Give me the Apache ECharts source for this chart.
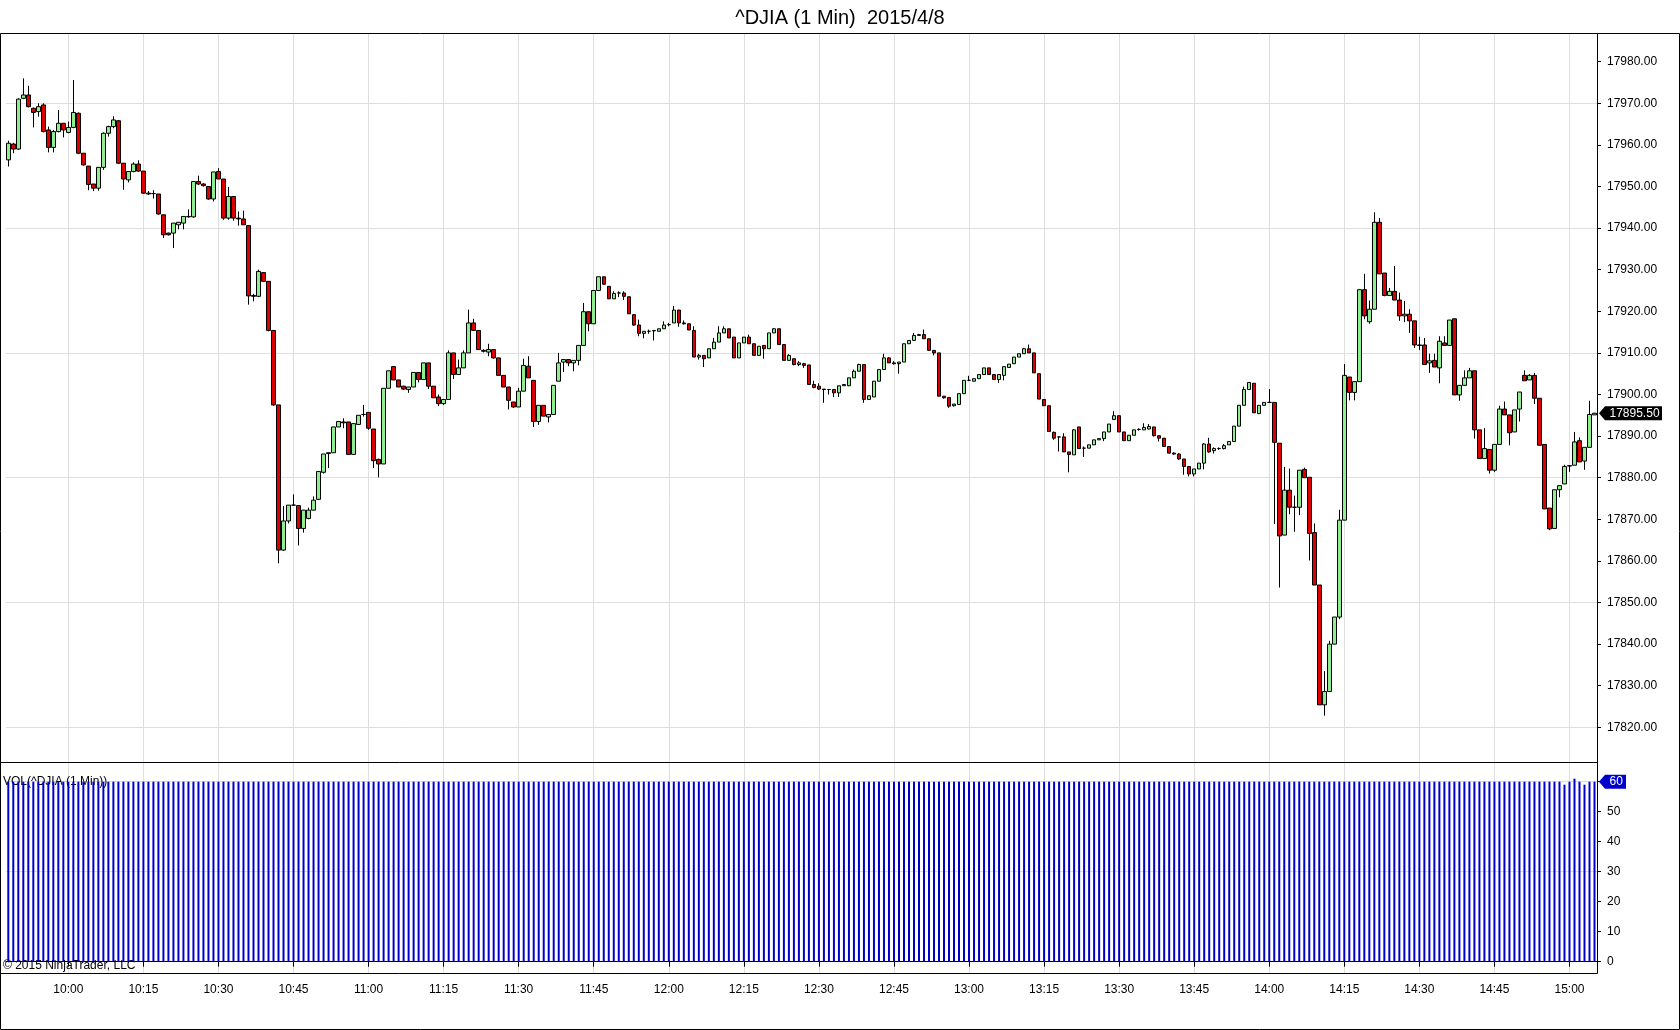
<!DOCTYPE html>
<html><head><meta charset="utf-8">
<script src="https://cdn.jsdelivr.net/npm/echarts@6/dist/echarts.min.js"></script>
<style>html,body{margin:0;padding:0;background:#fff}#c{width:1680px;height:1030px}</style>
</head><body><div id="c"></div>
<script>
// ---- data (1-minute bars from 09:48) ----
const startMinute = 9 * 60 + 48;
const opens = [
17956.4,17960.2,17959.0,17971.2,17972.0,17968.8,17968.0,17969.6,17963.6,17959.4,
17963.2,17965.2,17963.0,17964.2,17967.6,17958.0,17954.9,17950.6,17949.6,17954.6,
17962.8,17964.4,17965.8,17955.6,17951.6,17953.6,17955.4,17953.7,17948.4,17948.3,
17948.2,17943.2,17938.8,17938.8,17940.8,17941.2,17942.7,17942.7,17951.2,17950.6,
17950.0,17947.0,17953.6,17951.8,17942.4,17947.6,17942.4,17942.2,17940.6,17923.8,
17923.6,17929.3,17927.2,17915.4,17897.5,17862.6,17869.6,17873.4,17873.3,17867.8,
17870.2,17872.2,17874.8,17881.3,17885.8,17886.0,17892.2,17893.4,17893.4,17885.6,
17892.8,17895.2,17895.7,17891.7,17884.4,17883.3,17901.5,17906.7,17903.5,17902.0,
17901.2,17901.8,17905.3,17903.6,17907.6,17902.0,17899.4,17897.8,17898.8,17910.0,
17904.8,17906.4,17910.0,17917.2,17915.4,17910.6,17910.2,17910.8,17908.8,17904.6,
17901.8,17898.2,17897.0,17900.8,17906.8,17903.4,17893.5,17897.4,17894.6,17895.2,
17903.2,17907.8,17908.4,17907.6,17908.2,17911.8,17919.9,17917.0,17925.0,17928.3,
17926.0,17923.0,17924.4,17924.4,17923.5,17919.2,17916.7,17914.7,17915.2,17915.3,
17915.2,17915.8,17916.8,17917.2,17920.3,17917.2,17917.0,17915.4,17909.0,17909.4,
17908.8,17911.0,17912.6,17914.8,17915.8,17913.8,17908.8,17912.4,17913.8,17912.2,
17909.4,17911.8,17911.0,17914.8,17915.8,17912.0,17908.2,17908.6,17907.2,17907.4,
17907.1,17902.4,17902.0,17901.3,17901.2,17901.2,17900.4,17902.1,17902.1,17904.0,
17905.6,17907.2,17898.8,17899.4,17903.2,17906.0,17908.8,17907.6,17907.4,17907.8,
17912.2,17913.0,17914.2,17914.4,17913.4,17910.6,17910.0,17899.6,17899.3,17897.3,
17897.6,17900.2,17903.4,17903.2,17903.8,17904.8,17906.4,17904.8,17903.6,17904.6,
17906.5,17907.4,17909.0,17909.8,17911.0,17910.0,17905.0,17898.8,17897.3,17890.9,
17889.8,17889.8,17886.2,17885.5,17892.2,17887.1,17887.1,17887.9,17889.1,17889.4,
17891.0,17894.0,17894.9,17891.0,17888.9,17890.2,17891.6,17891.5,17891.7,17892.2,
17890.1,17889.5,17887.5,17885.9,17885.7,17884.5,17882.7,17880.9,17882.1,17883.5,
17888.1,17886.5,17887.0,17887.0,17887.9,17888.7,17892.4,17897.4,17901.2,17902.7,
17895.4,17897.4,17898.1,17898.1,17888.3,17866.2,17877.0,17872.9,17872.9,17882.0,
17880.1,17866.8,17854.2,17825.4,17828.6,17840.0,17846.5,17869.8,17904.2,17900.5,
17903.1,17925.2,17917.5,17920.5,17941.4,17929.2,17923.8,17924.8,17922.7,17918.9,
17919.3,17917.7,17911.9,17911.9,17907.6,17908.2,17906.4,17912.4,17911.8,17918.2,
17899.9,17902.2,17904.0,17905.7,17891.5,17884.6,17886.8,17881.8,17888.0,17896.5,
17895.1,17891.0,17896.5,17904.6,17903.5,17904.6,17899.1,17888.0,17872.7,17867.8,
17877.1,17878.5,17882.8,17883.0,17888.9,17884.0,17887.3,17895.1];
const closes = [
17960.4,17959.0,17971.0,17972.0,17969.2,17967.8,17969.2,17963.2,17959.4,17963.2,
17965.2,17963.6,17964.2,17967.8,17958.0,17955.2,17950.5,17949.6,17954.6,17962.8,
17964.4,17966.0,17955.6,17951.8,17953.6,17955.4,17953.7,17948.4,17948.2,17948.3,
17943.4,17938.4,17938.4,17941.2,17941.4,17942.8,17942.8,17951.2,17950.6,17950.2,
17947.0,17953.5,17951.8,17942.4,17947.6,17942.4,17942.2,17940.8,17923.7,17923.6,
17929.6,17927.2,17915.4,17897.5,17862.6,17869.6,17873.4,17873.4,17867.8,17872.2,
17872.2,17874.6,17881.5,17885.7,17886.0,17892.2,17893.5,17893.2,17885.6,17893.0,
17895.0,17895.2,17891.9,17884.1,17883.3,17901.5,17905.7,17903.5,17901.8,17901.3,
17901.8,17905.3,17903.6,17907.6,17902.0,17899.2,17897.8,17898.8,17910.0,17904.8,
17906.4,17910.0,17917.2,17915.4,17910.8,17910.4,17910.8,17908.8,17904.6,17901.8,
17898.6,17897.0,17900.8,17907.0,17904.0,17893.5,17897.4,17894.8,17895.2,17902.2,
17907.6,17908.4,17907.6,17908.2,17911.8,17919.9,17917.0,17925.0,17928.3,17926.5,
17923.0,17924.3,17924.4,17923.6,17919.4,17916.7,17914.7,17915.2,17915.2,17915.4,
17915.8,17916.7,17916.8,17920.3,17917.2,17917.0,17915.5,17909.0,17909.4,17908.6,
17911.0,17912.6,17914.8,17915.8,17913.6,17908.8,17912.4,17913.8,17912.2,17909.4,
17911.6,17911.0,17914.8,17915.8,17912.0,17908.2,17909.4,17907.2,17907.6,17907.0,
17902.4,17901.7,17901.3,17901.2,17901.2,17900.4,17902.1,17902.4,17904.0,17905.6,
17907.2,17898.8,17899.7,17903.2,17906.0,17908.8,17907.6,17907.4,17907.8,17912.2,
17913.0,17914.2,17914.4,17913.4,17910.6,17910.0,17899.6,17899.2,17897.2,17897.7,
17900.2,17903.4,17903.4,17903.8,17904.8,17906.4,17904.8,17903.6,17904.8,17906.7,
17907.3,17909.0,17909.8,17911.0,17910.0,17905.2,17898.9,17897.3,17891.1,17889.5,
17889.8,17886.2,17885.6,17891.5,17887.0,17887.1,17887.9,17889.1,17889.4,17891.0,
17892.9,17894.9,17891.0,17888.9,17890.2,17891.5,17891.6,17892.1,17892.3,17890.1,
17889.5,17887.5,17885.9,17885.7,17884.5,17882.7,17880.9,17882.1,17883.5,17888.1,
17886.2,17887.0,17887.0,17887.7,17888.7,17892.4,17897.4,17901.2,17902.9,17895.6,
17897.4,17898.1,17898.1,17888.5,17866.0,17877.0,17872.9,17872.9,17881.8,17880.0,
17866.6,17854.2,17825.4,17828.6,17840.0,17846.5,17869.8,17904.6,17900.5,17903.1,
17925.2,17918.9,17920.5,17941.4,17929.0,17923.8,17924.8,17922.7,17918.9,17919.3,
17917.7,17911.9,17911.8,17907.2,17908.1,17906.6,17912.8,17911.8,17917.9,17899.9,
17902.2,17904.0,17905.7,17891.5,17884.6,17887.0,17881.8,17888.0,17896.5,17895.1,
17890.8,17896.3,17900.6,17903.3,17904.6,17899.1,17887.8,17872.5,17867.7,17877.1,
17878.1,17882.7,17882.9,17888.6,17883.8,17887.3,17895.2,17895.5];
const lows = [
17954.8,17958.0,17958.8,17971.0,17969.0,17964.2,17966.8,17963.0,17958.2,17958.2,
17963.0,17961.8,17962.8,17964.0,17957.8,17955.0,17949.1,17948.9,17949.0,17954.0,
17962.0,17964.0,17955.4,17949.2,17951.0,17953.4,17953.5,17948.2,17948.0,17947.1,
17943.2,17937.6,17938.2,17935.2,17939.7,17939.7,17942.5,17942.5,17950.4,17950.0,
17946.8,17946.4,17951.8,17942.0,17942.0,17941.8,17940.6,17940.8,17921.6,17922.4,
17923.4,17927.0,17915.2,17897.3,17859.4,17862.4,17869.0,17873.2,17863.7,17866.8,
17870.0,17872.2,17874.6,17881.0,17882.3,17886.0,17892.2,17891.9,17885.6,17885.6,
17892.8,17894.7,17891.5,17882.3,17880.1,17883.3,17901.5,17903.5,17901.8,17901.1,
17900.4,17901.8,17902.9,17903.6,17901.3,17899.2,17897.2,17897.5,17898.8,17903.7,
17904.8,17906.4,17910.0,17915.4,17910.8,17910.1,17909.2,17908.6,17904.6,17901.8,
17896.4,17896.8,17897.0,17900.8,17904.0,17892.2,17892.7,17894.8,17893.3,17895.2,
17903.2,17905.4,17906.8,17905.6,17907.0,17911.8,17915.2,17917.0,17925.0,17926.5,
17923.0,17923.0,17923.4,17922.7,17919.4,17916.5,17914.0,17913.5,17914.6,17913.0,
17915.2,17915.8,17916.4,17917.2,17916.3,17916.8,17915.5,17909.0,17908.4,17906.6,
17908.8,17911.0,17912.6,17914.8,17913.6,17908.8,17908.8,17912.4,17912.2,17909.4,
17909.4,17908.6,17911.0,17914.8,17912.0,17908.2,17908.2,17907.0,17906.8,17906.4,
17902.4,17901.5,17901.1,17898.0,17900.0,17899.4,17899.4,17902.1,17902.0,17904.0,
17905.6,17898.0,17898.8,17899.4,17903.2,17906.0,17907.6,17907.2,17905.0,17907.8,
17912.2,17913.0,17914.2,17913.4,17910.6,17909.4,17899.6,17899.0,17896.8,17897.1,
17897.6,17900.2,17903.2,17903.2,17903.8,17904.8,17904.8,17903.6,17902.8,17903.4,
17906.5,17907.4,17909.0,17909.8,17910.0,17905.2,17898.9,17897.3,17891.1,17889.1,
17886.3,17886.2,17881.3,17885.5,17887.0,17885.0,17887.1,17887.9,17889.1,17888.8,
17891.0,17894.0,17891.0,17888.9,17888.9,17890.2,17891.3,17891.5,17891.6,17889.9,
17888.7,17887.5,17885.9,17885.5,17884.3,17880.7,17880.3,17880.3,17882.1,17882.0,
17886.0,17885.8,17886.7,17886.8,17887.9,17888.7,17892.4,17897.4,17901.2,17895.6,
17895.4,17897.4,17898.0,17868.9,17853.6,17866.2,17871.2,17867.0,17871.0,17880.0,
17860.1,17854.2,17825.4,17822.8,17828.6,17840.0,17846.0,17869.8,17898.6,17898.6,
17903.1,17918.1,17917.0,17920.5,17929.0,17923.6,17923.8,17922.7,17917.7,17917.4,
17914.8,17911.2,17910.7,17907.2,17905.2,17906.6,17902.7,17911.8,17911.8,17899.9,
17898.5,17902.2,17904.0,17889.4,17884.6,17884.6,17881.0,17881.4,17888.0,17895.1,
17887.8,17891.0,17893.5,17903.3,17903.5,17897.7,17887.8,17872.5,17867.4,17867.8,
17875.3,17878.5,17881.4,17883.0,17883.8,17881.9,17887.3,17895.1];
const highs = [
17961.0,17960.5,17971.2,17976.0,17974.2,17969.0,17970.0,17970.0,17964.4,17963.6,
17968.4,17965.2,17965.6,17975.6,17967.8,17958.0,17954.9,17950.6,17954.6,17963.0,
17964.6,17966.9,17966.0,17955.6,17953.6,17955.8,17956.3,17953.7,17948.9,17949.1,
17948.2,17943.2,17938.9,17941.2,17941.4,17942.8,17944.5,17951.2,17952.6,17950.8,
17950.0,17953.5,17954.4,17951.8,17949.9,17947.6,17944.0,17944.2,17940.6,17924.2,
17930.0,17929.3,17927.2,17915.4,17897.5,17873.2,17873.4,17876.0,17873.3,17872.2,
17872.8,17875.5,17881.5,17885.7,17886.0,17892.2,17893.5,17894.3,17893.4,17893.0,
17895.0,17897.5,17895.7,17891.7,17884.6,17901.5,17905.7,17906.7,17903.5,17902.1,
17901.8,17905.3,17905.3,17907.6,17907.6,17902.0,17900.0,17898.8,17910.6,17910.0,
17908.4,17910.6,17920.4,17918.2,17915.4,17910.9,17912.2,17910.8,17908.8,17904.6,
17901.8,17898.2,17901.6,17908.6,17909.2,17903.4,17897.4,17897.4,17895.2,17902.2,
17910.0,17908.4,17908.4,17908.2,17911.8,17922.0,17919.9,17925.0,17928.3,17928.3,
17926.0,17924.8,17924.8,17924.8,17923.5,17919.2,17918.0,17915.2,17915.6,17915.4,
17915.8,17917.6,17917.2,17921.3,17920.3,17917.8,17917.0,17916.4,17909.8,17909.4,
17911.0,17913.6,17916.4,17916.4,17915.8,17913.8,17912.4,17913.8,17914.4,17912.2,
17911.6,17911.8,17914.8,17916.0,17915.8,17912.0,17909.7,17908.6,17908.0,17907.6,
17907.1,17903.3,17902.7,17901.3,17901.3,17901.2,17902.1,17902.4,17904.0,17906.0,
17907.4,17907.2,17899.7,17903.2,17906.0,17909.8,17909.0,17908.0,17907.8,17912.2,
17913.0,17914.8,17914.6,17915.6,17913.4,17910.6,17910.0,17899.6,17899.3,17897.7,
17900.2,17903.4,17904.5,17903.8,17904.8,17906.4,17906.4,17904.8,17904.8,17906.7,
17907.3,17909.0,17909.8,17911.2,17912.0,17910.0,17905.0,17898.8,17897.3,17891.1,
17889.9,17890.7,17886.2,17891.7,17892.2,17887.5,17887.9,17889.1,17889.4,17891.0,
17892.9,17896.0,17894.9,17891.0,17890.2,17891.5,17891.9,17893.1,17892.9,17892.2,
17890.1,17889.5,17887.5,17886.1,17885.9,17884.5,17882.7,17882.1,17883.5,17888.3,
17889.6,17887.3,17887.3,17888.1,17888.7,17892.4,17897.4,17901.9,17902.9,17902.7,
17897.4,17898.1,17901.3,17898.1,17888.3,17882.6,17882.2,17875.7,17881.8,17882.4,
17880.1,17869.0,17854.2,17833.5,17840.8,17846.5,17872.3,17907.3,17904.2,17903.1,
17925.2,17929.0,17922.6,17943.8,17942.4,17929.2,17925.6,17930.9,17924.5,17922.5,
17920.5,17917.7,17913.9,17913.6,17909.8,17909.8,17914.0,17914.0,17917.9,17918.2,
17902.2,17905.8,17906.4,17905.7,17891.5,17891.9,17886.8,17888.0,17897.3,17898.3,
17895.1,17896.3,17900.6,17905.8,17904.9,17905.2,17899.1,17888.0,17872.7,17877.1,
17878.1,17883.1,17883.0,17891.0,17889.7,17887.3,17898.5,17895.6];
const volumes = [
60,60,60,60,60,60,60,60,60,60, 60,60,60,60,60,60,60,60,60,60,
60,60,60,60,60,60,60,60,60,60, 60,60,60,60,60,60,60,60,60,60,
60,60,60,60,60,60,60,60,60,60, 60,60,60,60,60,60,60,60,60,60,
60,60,60,60,60,60,60,60,60,60, 60,60,60,60,60,60,60,60,60,60,
60,60,60,60,60,60,60,60,60,60, 60,60,60,60,60,60,60,60,60,60,
60,60,60,60,60,60,60,60,60,60, 60,60,60,60,60,60,60,60,60,60,
60,60,60,60,60,60,60,60,60,60, 60,60,60,60,60,60,60,60,60,60,
60,60,60,60,60,60,60,60,60,60, 60,60,60,60,60,60,60,60,60,60,
60,60,60,60,60,60,60,60,60,60, 60,60,60,60,60,60,60,60,60,60,
60,60,60,60,60,60,60,60,60,60, 60,60,60,60,60,60,60,60,60,60,
60,60,60,60,60,60,60,60,60,60, 60,60,60,60,60,60,60,60,60,60,
60,60,60,60,60,60,60,60,60,60, 60,60,60,60,60,60,60,60,60,60,
60,60,60,60,60,60,60,60,60,60, 60,60,60,60,60,60,60,60,60,60,
60,60,60,60,60,60,60,60,60,60, 60,60,60,60,60,60,60,60,60,60,
60,60,60,60,60,60,60,60,60,60, 60,60,60,60,60,60,60,60,60,60,
60,60,60,60,60,60,60,60,60,60, 60,59,60,61,60,59,60,60];
const timeLabels = ['10:00','10:15','10:30','10:45','11:00','11:15','11:30','11:45','12:00','12:15','12:30','12:45','13:00','13:15','13:30','13:45','14:00','14:15','14:30','14:45','15:00'];
const titleText = '^DJIA (1 Min)  2015/4/8';
const volTitle = 'VOL(^DJIA (1 Min))';
const copyright = '\u00a9 2015 NinjaTrader, LLC';

// ---- build ----
const categories = opens.map((_, i) => {
  const m = startMinute + i;
  return Math.floor(m / 60) + ':' + String(m % 60).padStart(2, '0');
});
const candleData = opens.map((o, i) => [o, closes[i], lows[i], highs[i]]);
const isTick = (idx, val) => timeLabels.indexOf(categories[idx]) >= 0;

const FONT = '"Liberation Sans", Arial, sans-serif';
const GRID_C = '#dedede';
const GL = 5.8, GR = 83;
const P_TOP = 34, P_BOT = 727.3, PX_PT = 4.16, P_MIN = 17820;
const P_MAX = P_MIN + (P_BOT - P_TOP) / PX_PT;
const V_TOP = 762, V_ZERO = 961.7, V_PX = 3;
const V_MAX = (V_ZERO - V_TOP) / V_PX;
const PANEL_BOT = 973.5, AXIS_X = 1597.5;

const chart = echarts.init(document.getElementById('c'), null, {renderer: 'canvas', width: 1680, height: 1030});
chart.setOption({
  animation: false,
  backgroundColor: '#fff',
  title: {text: titleText, left: 'center', top: 3, textStyle: {fontSize: 20, fontWeight: 'normal', color: '#000', fontFamily: FONT}},
  grid: [
    {left: GL, right: GR, top: P_TOP, height: P_BOT - P_TOP},
    {left: GL, right: GR, top: V_TOP, height: V_ZERO - V_TOP},
    {left: GL, right: GR, top: P_TOP, height: PANEL_BOT - P_TOP}
  ],
  xAxis: [
    {type: 'category', gridIndex: 0, data: categories, boundaryGap: true,
     axisLine: {show: false}, axisTick: {show: false}, axisLabel: {show: false}, splitLine: {show: false}},
    {type: 'category', gridIndex: 1, data: categories, boundaryGap: true, offset: PANEL_BOT - V_ZERO,
     axisLine: {show: true, lineStyle: {color: '#000', width: 1}},
     axisTick: {show: true, interval: isTick, alignWithLabel: true, length: 5, lineStyle: {color: '#000'}},
     axisLabel: {interval: isTick, color: '#000', fontSize: 12, fontFamily: FONT, margin: 10},
     splitLine: {show: false}},
    {type: 'category', gridIndex: 2, data: categories, boundaryGap: true,
     axisLine: {show: false}, axisTick: {show: false}, axisLabel: {show: false},
     splitLine: {show: true, interval: isTick, alignWithLabel: true, lineStyle: {color: GRID_C, width: 1}}}
  ],
  yAxis: [
    {type: 'value', gridIndex: 0, position: 'right', min: P_MIN, max: P_MAX, interval: 10,
     axisLine: {show: true, lineStyle: {color: '#000'}},
     axisTick: {show: true, length: 4, lineStyle: {color: '#000'}},
     axisLabel: {margin: 10, color: '#000', fontSize: 12, fontFamily: FONT, showMaxLabel: false,
       formatter: v => (Math.abs(v % 10) < 1e-6 ? v.toFixed(2) : '')},
     splitLine: {show: false}},
    {type: 'value', gridIndex: 0, position: 'right', min: P_MIN, max: P_MAX, interval: 30,
     axisLine: {show: false}, axisTick: {show: false}, axisLabel: {show: false},
     splitLine: {show: true, showMaxLine: false, lineStyle: {color: GRID_C, width: 1}}},
    {type: 'value', gridIndex: 1, position: 'right', min: 0, max: V_MAX, interval: 10,
     axisLine: {show: true, lineStyle: {color: '#000'}},
     axisTick: {show: true, length: 4, lineStyle: {color: '#000'}},
     axisLabel: {margin: 10, color: '#000', fontSize: 12, fontFamily: FONT, showMaxLabel: false,
       formatter: v => (Math.abs(v % 10) < 1e-6 && v < 60 ? String(v) : '')},
     splitLine: {show: false}},
    {type: 'value', gridIndex: 1, position: 'right', min: 0, max: V_MAX, interval: 30,
     axisLine: {show: false}, axisTick: {show: false}, axisLabel: {show: false},
     splitLine: {show: true, lineStyle: {color: GRID_C, width: 1}}},
    {type: 'value', gridIndex: 2, show: false, min: 0, max: 1}
  ],
  series: [
    {type: 'candlestick', name: 'price', xAxisIndex: 0, yAxisIndex: 0, data: candleData, barWidth: 4,
     itemStyle: {color: '#90ee90', color0: '#dd0000', borderColor: '#000', borderColor0: '#000', borderWidth: 1}},
    {type: 'bar', name: 'volume', xAxisIndex: 1, yAxisIndex: 2, data: volumes, barWidth: 2,
     itemStyle: {color: '#0000cc'}}
  ]
});

const lastClose = closes[closes.length - 1];
const lastVol = volumes[volumes.length - 1];
const yP = chart.convertToPixel({yAxisIndex: 0}, lastClose);
const yV = chart.convertToPixel({yAxisIndex: 2}, lastVol);
function marker(y, w, fill, text) {
  return [
    {type: 'polygon', z: 20, shape: {points: [[AXIS_X + 1.5, y], [AXIS_X + 7.5, y - 7], [AXIS_X + 7.5 + w, y - 7], [AXIS_X + 7.5 + w, y + 7], [AXIS_X + 7.5, y + 7]]},
     style: {fill: fill}},
    {type: 'text', z: 21, x: AXIS_X + 12, y: y, style: {text: text, fill: '#fff', font: '12px ' + FONT, textVerticalAlign: 'middle', verticalAlign: 'middle'}}
  ];
}
const line = (x1, y1, x2, y2) => ({type: 'line', z: 15, shape: {x1, y1, x2, y2}, style: {stroke: '#000', lineWidth: 1}});
chart.setOption({
  graphic: [
    {type: 'text', z: 1, x: 3, y: 782, style: {text: volTitle, fill: '#000', font: '12px ' + FONT, verticalAlign: 'middle', textVerticalAlign: 'middle'}},
    {type: 'text', z: 1, x: 3, y: 966, style: {text: copyright, fill: '#000', font: '12px ' + FONT, verticalAlign: 'middle', textVerticalAlign: 'middle'}},
    line(0.5, 33.5, 1679.5, 33.5),
    line(0.5, 33.5, 0.5, 1029.5),
    line(1679.5, 33.5, 1679.5, 1029.5),
    line(0.5, 1029.5, 1679.5, 1029.5),
    line(0.5, 762.5, AXIS_X, 762.5),
    line(0.5, PANEL_BOT, AXIS_X, PANEL_BOT),
    line(AXIS_X, 33.5, AXIS_X, PANEL_BOT),
    ...marker(yP, 57, '#000', lastClose.toFixed(2)),
    ...marker(yV, 21, '#0000cc', String(lastVol))
  ]
});
</script></body></html>
